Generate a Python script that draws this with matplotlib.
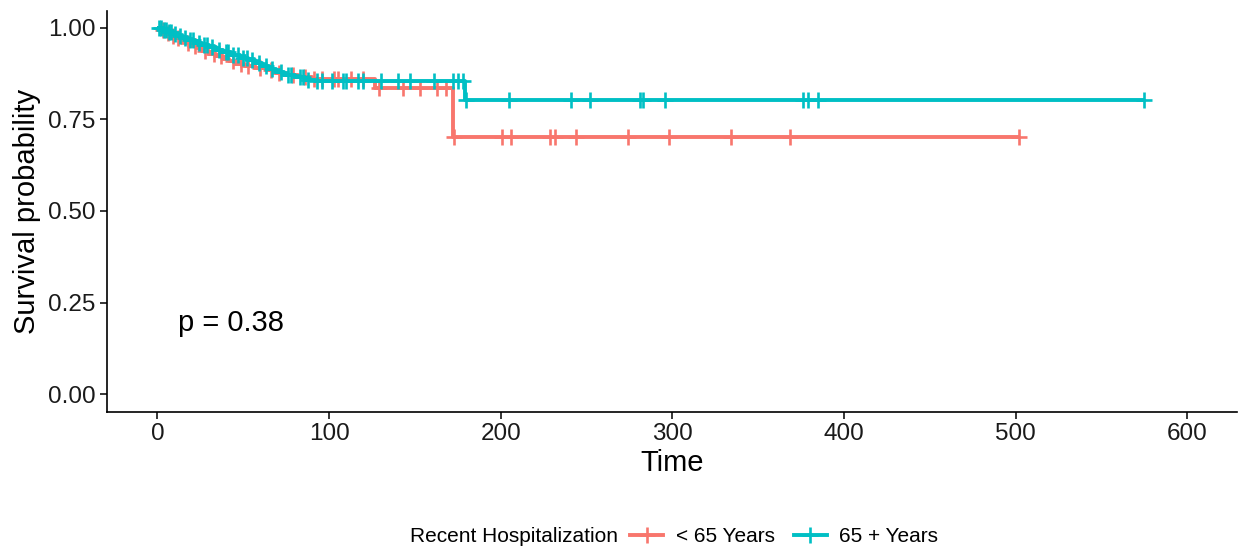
import matplotlib
matplotlib.use("Agg")
import matplotlib.pyplot as plt
from matplotlib.lines import Line2D
import numpy as np

plt.rcParams["font.family"] = ["Liberation Sans", "DejaVu Sans"]

# ── Data ─────────────────────────────────────────────────────────────────────
GROUPS = ["< 65 Years", "65 + Years"]
COLORS = ["#F8766D", "#00BFC4"]

# event times and survival right after each event
young_event_t = [2, 4, 7, 11, 14, 17, 20, 23, 26, 30, 34, 38, 42, 46, 51, 57,
                 63, 69, 75, 82, 90, 127, 172]
young_event_s = [0.993, 0.986, 0.979, 0.972, 0.965, 0.958, 0.951, 0.944, 0.937,
                 0.930, 0.923, 0.916, 0.909, 0.902, 0.896, 0.890, 0.884, 0.878,
                 0.872, 0.866, 0.861, 0.835, 0.703]
young_censor_t = [3, 6, 9, 12, 18, 22, 28, 33, 37, 44, 49, 53, 60, 66, 71, 79,
                  86, 91, 96, 103, 105, 113, 120, 129, 143, 153, 163, 168, 173,
                  201, 206, 228.5, 231.5, 244, 274, 298, 334, 368.5, 502]
young_end = 502

old_event_t = [3, 6, 9, 12, 15, 18, 22, 26, 30, 34, 38, 43, 48, 53, 57, 61, 65,
               69, 74, 80, 86, 92, 179]
old_event_s = [0.995, 0.990, 0.984, 0.978, 0.972, 0.966, 0.960, 0.954, 0.947,
               0.940, 0.933, 0.926, 0.919, 0.911, 0.903, 0.895, 0.887, 0.879,
               0.872, 0.865, 0.859, 0.854, 0.802]
old_censor_t = [1, 2, 4, 5, 7, 8, 10, 13, 16, 19, 21, 24, 27, 29, 32, 36, 40, 41,
                44, 47, 50, 52, 55, 59, 63, 67, 72, 76, 78, 83, 85, 88, 93, 96,
                102, 108, 110, 117, 120, 130, 140, 147, 161, 172, 175, 178, 180,
                205, 241, 252, 281, 283, 296, 376, 379, 385, 575]
old_end = 575

P_TEXT = "p = 0.38"

X_TICKS = [0, 100, 200, 300, 400, 500, 600]
Y_TICKS = [0.0, 0.25, 0.50, 0.75, 1.00]


def step_curve(ev_t, ev_s, end):
    x = np.concatenate([[0], ev_t, [end]])
    y = np.concatenate([[1.0], ev_s, [ev_s[-1]]])
    return x, y


def surv_at(ev_t, ev_s, times):
    ev_t = np.asarray(ev_t)
    ev_s = np.asarray(ev_s)
    out = []
    for t in times:
        idx = np.searchsorted(ev_t, t, side="right") - 1
        out.append(1.0 if idx < 0 else ev_s[idx])
    return np.array(out)


fig = plt.figure(figsize=(12.47, 5.52), dpi=100)
ax = fig.add_axes([0.0856, 0.2536, 0.9064, 0.7264])

series = [
    (young_event_t, young_event_s, young_censor_t, young_end),
    (old_event_t, old_event_s, old_censor_t, old_end),
]
for (et, es, ct, end), col in zip(series, COLORS):
    x, y = step_curve(et, es, end)
    ax.plot(x, y, drawstyle="steps-post", color=col, lw=2.8,
            solid_capstyle="butt")
    ax.plot(ct, surv_at(et, es, ct), ls="none", marker="+", color=col,
            markersize=11, mew=1.9)

ax.text(12, 0.194, P_TEXT, fontsize=21, ha="left", va="center")

ax.set_xlim(-29.5, 629)
ax.set_ylim(-0.049, 1.046)
ax.set_xticks(X_TICKS)
ax.set_yticks(Y_TICKS)
ax.set_yticklabels([f"{v:.2f}" for v in Y_TICKS])
ax.tick_params(labelsize=17.5, length=5, width=1.1, color="black",
               labelcolor="#1a1a1a", pad=3)
for side in ["top", "right"]:
    ax.spines[side].set_visible(False)
for side in ["left", "bottom"]:
    ax.spines[side].set_linewidth(1.2)
ax.set_xlabel("Time", fontsize=21, labelpad=3)
ax.set_ylabel("Survival probability", fontsize=21, labelpad=5)

# legend along the bottom, title on the left
fig.text(410 / 1247, 1 - 537 / 552, "Recent Hospitalization", fontsize=15,
         ha="left", va="center")
handles = [Line2D([], [], color=c, lw=2.8, marker="+", markersize=11, mew=1.9)
           for c in COLORS]
fig.legend(handles, GROUPS, loc="center left",
           bbox_to_anchor=(630 / 1247, 1 - 537 / 552), ncol=2, frameon=False,
           fontsize=15, handlelength=1.6, handletextpad=0.6,
           columnspacing=0.9, borderpad=0, borderaxespad=0)

fig.savefig("out.png", dpi=100)
